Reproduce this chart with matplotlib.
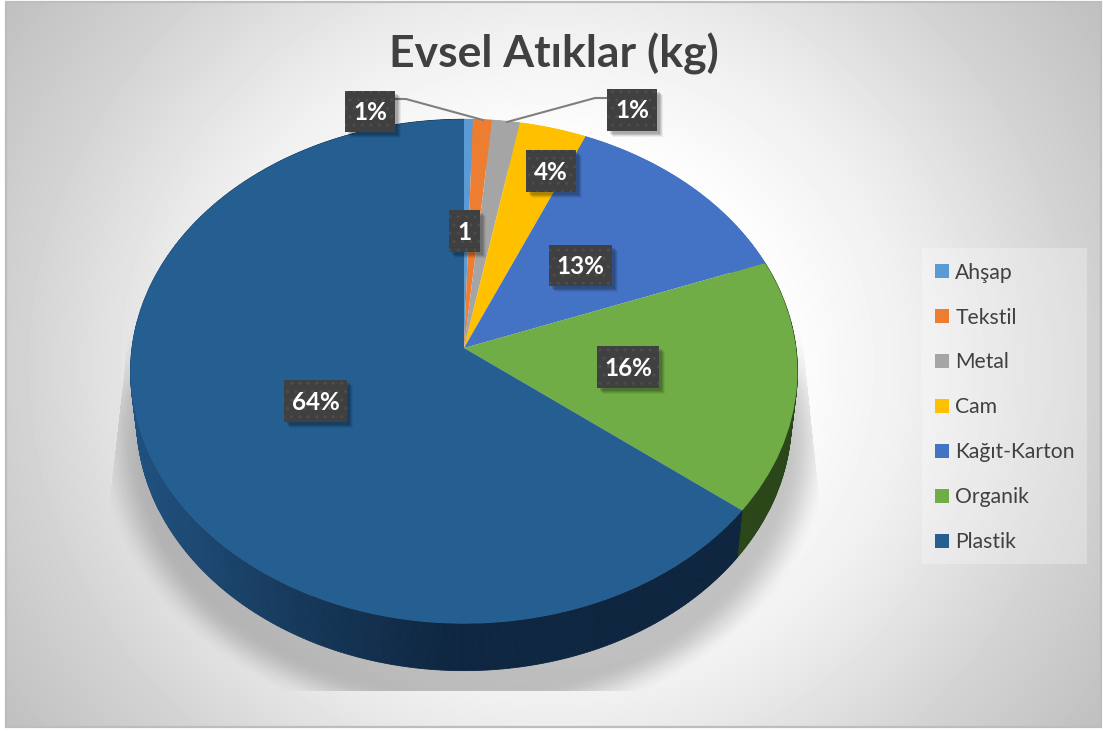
import numpy as np
import matplotlib
matplotlib.use("Agg")
import matplotlib.pyplot as plt
from matplotlib.patches import Rectangle
from matplotlib.collections import PolyCollection
from matplotlib.transforms import Transform

plt.rcParams['font.family'] = ['Lato', 'DejaVu Sans']
plt.rcParams['hatch.linewidth'] = 1.0

# data
categories = ['Ahşap', 'Tekstil', 'Metal', 'Cam', 'Kağıt-Karton', 'Organik', 'Plastik']
values = [0.47, 1.0, 1.47, 3.56, 12.8, 16.2, 64.5]
value_labels = ['1', '1%', '1%', '4%', '13%', '16%', '64%']
colors = ['#5B9BD5', '#ED7D31', '#A5A5A5', '#FFC000', '#4472C4', '#70AD47', '#255E91']
wall_color = '#2B4619'


class Persp(Transform):
    # tilted disc: unit circle -> image pixels
    input_dims = 2
    output_dims = 2
    has_inverse = False

    def __init__(self, drop=0.0, sx=1.0):
        super().__init__()
        self.drop = drop
        self.sx = sx

    def transform_non_affine(self, xy):
        xy = np.asarray(xy, dtype=float)
        d = 1 + 0.093 * xy[:, 1]
        return np.column_stack((464 + self.sx * 332.0 * xy[:, 0] / d,
                                348 + self.drop - 250.0 * xy[:, 1] / d))


fig = plt.figure(figsize=(11.03, 7.31), dpi=100, facecolor='white')
ax = fig.add_axes([0, 0, 1, 1])

wedges, _ = ax.pie(values, colors=colors, startangle=90, counterclock=False,
                   wedgeprops={'linewidth': 0, 'zorder': 5})
ax.set_aspect('auto')
ax.set_xlim(0, 1103)
ax.set_ylim(731, 0)
ax.axis('off')

# background
yy, xx = np.mgrid[2:727, 6:1101]
r = np.hypot((xx - 552) / 552, (yy - 365) / 520)
grey = np.interp(r, [0, .4, .65, .72, .96, 1.22], [255, 255, 240, 234, 211, 191]) / 255
ax.imshow(grey, cmap='gray', vmin=0, vmax=1, extent=(6, 1101, 727, 2),
          aspect='auto', zorder=0, interpolation='bilinear')
ax.add_patch(Rectangle((5.5, 1.5), 1095.5, 725.5, fill=False, ec='#bdbdbd', lw=1.6, zorder=1))

# shadow under the pie
yy, xx = np.mgrid[270:691, 90:840]
rs = np.hypot((xx - 464) / 362, (yy - 440) / 285)
a = np.clip((1.02 - rs) / 0.13, 0, 1)
a = a * a * (3 - 2 * a)
a = a * np.clip((yy - 285) / 110, 0, 1)
left = 133 - (yy - 290) * 26 / 230
right = 797 + (yy - 290) * 24 / 230
a[(xx < left) | (xx > right)] = 0
shadow = np.zeros(a.shape + (4,))
shadow[..., 3] = a * 0.22
ax.imshow(shadow, extent=(90, 840, 691, 270), aspect='auto', zorder=2, interpolation='bilinear')

# side wall, built from the wedge angles
top = Persp()
low = Persp(drop=47, sx=0.982)
grad_x = [130, 300, 450, 740]
grad_c = np.array([[0x20, 0x52, 0x80], [0x16, 0x38, 0x5a], [0x0e, 0x26, 0x40], [0x0e, 0x25, 0x3f]]) / 255
for w, col in zip(wedges, colors):
    th = np.radians(np.linspace(w.theta1, w.theta2, max(int(w.theta2 - w.theta1), 1) * 2 + 2))
    pts = np.column_stack((np.cos(th), np.sin(th)))
    a1, b1 = top.transform(pts), low.transform(pts)
    polys = [[a1[i], a1[i + 1], b1[i + 1], b1[i]] for i in range(len(th) - 1)]
    if col == colors[-1]:
        mid = a1[:-1, 0]
        cs = np.column_stack([np.interp(mid, grad_x, grad_c[:, i]) for i in range(3)])
    elif col == colors[-2]:
        cs = [wall_color] * len(polys)
    else:
        cs = [col] * len(polys)
    ax.add_collection(PolyCollection(polys, facecolors=cs, edgecolors=cs, linewidths=0.6, zorder=3))

for w in wedges:
    w.set_transform(top + ax.transData)
    w.set_clip_on(False)

# leader lines
ax.plot([395, 406, 483], [99, 99, 120], color='#7f7f7f', lw=1.5, zorder=6)
ax.plot([607, 595, 507], [98, 98, 122], color='#7f7f7f', lw=1.5, zorder=6)

# value labels (same order as categories)
boxes = [(449, 210, 31, 42), (345, 91, 50, 41), (607, 89, 50, 42), (526, 150, 50, 42),
         (549, 245, 63, 41), (597, 346, 62, 42), (284, 380, 63, 42)]
for (x, y, w, h), s in zip(boxes, value_labels):
    for off, al in [(6, .06), (5, .08), (4, .10), (3, .12)]:
        ax.add_patch(Rectangle((x + off, y + off), w, h, fc='black', ec='none', alpha=al, zorder=7))
    ax.add_patch(Rectangle((x, y), w, h, fc='#404040', ec='#4d4d4d', hatch='..', lw=0, zorder=8))
    ax.text(x + w / 2, y + h / 2 + 1, s, color='white', fontsize=17.5, fontweight='bold',
            ha='center', va='center', zorder=9)

ax.text(554, 54, 'Evsel Atıklar (kg)', color='#404040', fontsize=32, fontweight='bold',
        ha='center', va='center', zorder=9)

ax.add_patch(Rectangle((922, 248), 165, 316, fc='white', ec='none', alpha=0.28, zorder=5))
leg = ax.legend(wedges, categories, loc='upper left', bbox_to_anchor=(922, 250),
                bbox_transform=ax.transData, borderaxespad=0, borderpad=0.6, fontsize=15.2,
                labelspacing=1.18, handlelength=0.67, handleheight=0.67, handletextpad=0.3,
                labelcolor='#404040', frameon=False)
leg.set_zorder(6)

fig.savefig('out.png', dpi=100)
